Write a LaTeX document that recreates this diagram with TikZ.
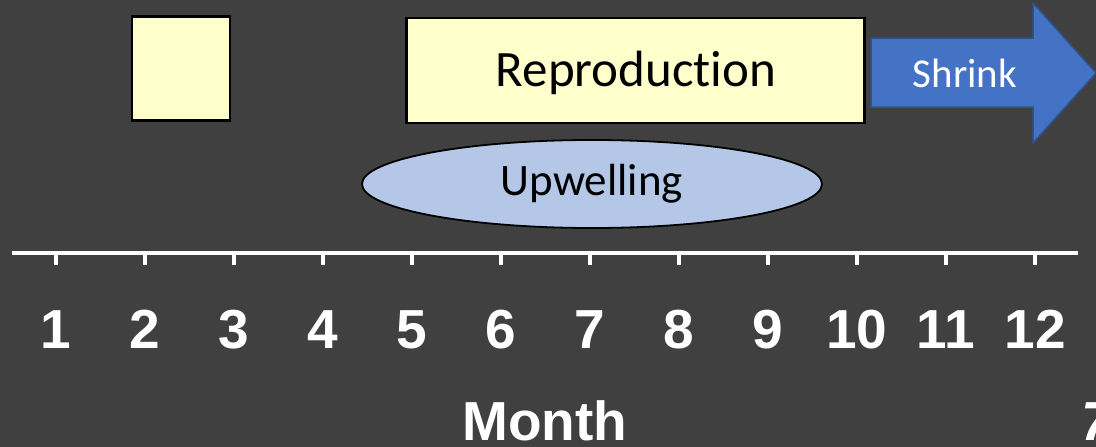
\documentclass[tikz,border=0pt]{standalone}
\usepackage{fontspec}
\setmainfont[Ligatures=NoCommon]{Carlito}
\newfontfamily\arialfont{Liberation Sans}
\usetikzlibrary{shapes.geometric}
\definecolor{bg}{HTML}{404040}
\definecolor{paleyellow}{HTML}{FFFFCC}
\definecolor{paleblue}{HTML}{B4C7E7}
\definecolor{arrowblue}{HTML}{4472C4}
\definecolor{arrowedge}{HTML}{2F528F}
\tikzset{
  period/.style={draw=black, line width=2.6pt, fill=paleyellow, inner sep=0pt},
  monthlabel/.style={text=white, font=\arialfont\bfseries\fontsize{55}{60}\selectfont, anchor=base},
  axisline/.style={draw=white, line width=4pt},
}
\begin{document}
\begin{tikzpicture}[x=1pt, y=-1pt]
  \fill[bg] (0,0) rectangle (1096,447);
  \useasboundingbox (0,0) rectangle (1096,447);
  \begin{scope}
  \clip (0,0) rectangle (1096,447);

  % seasonal periods
  \node[period, minimum width=98pt, minimum height=104pt] (early) at (181,68.5) {};
  \node[period, minimum width=458pt, minimum height=105pt] (repro) at (635.5,70.5) {};
  \node[font=\fontsize{51}{56}\selectfont] (reprotext) at (636,73) {Reproduction};
  \node[ellipse, draw=black, line width=1.8pt, fill=paleblue,
        minimum width=460pt, minimum height=88pt, inner sep=0pt,
        font=\fontsize{45}{50}\selectfont] (upw) at (592,184) {Upwelling};

  % shrink arrow
  \draw[fill=arrowblue, draw=arrowedge, line width=1.5pt]
    (871,38) -- (1033,38) -- (1033,3) -- (1096,73) -- (1033,143) -- (1033,107) -- (871,107) -- cycle;
  \node[text=white, font=\fontsize{41}{46}\selectfont] (shrink) at (965,73) {Shrink};

  % month axis
  \coordinate (axL) at (12,252.5);
  \coordinate (axR) at (1078,252.5);
  \draw[axisline] (axL) -- (axR);
  \foreach \m in {1,...,12} {
    \coordinate (t\m) at ({56+89*(\m-1)},252.5);
    \draw[white, line width=3.5pt] (t\m) -- ++(0,12);
    \node[monthlabel] (m\m) at ({56+89*(\m-1)},348) {\m};
  }
  \node[monthlabel] (month) at (545,440) {Month};
  \node[text=white, font=\arialfont\bfseries\itshape\fontsize{55}{60}\selectfont,
        anchor=base west, inner sep=0pt] (slideno) at (1081,440) {7};
  \end{scope}
\end{tikzpicture}
\end{document}
